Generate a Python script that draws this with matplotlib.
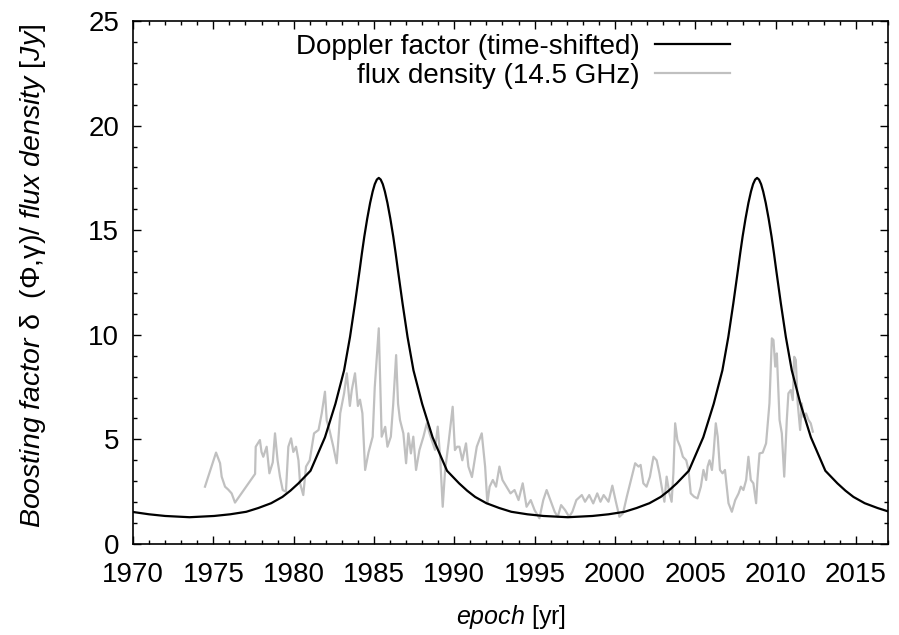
import matplotlib
matplotlib.use("Agg")
import matplotlib.pyplot as plt
from matplotlib.ticker import MultipleLocator

plt.rcParams['font.family'] = ['Liberation Sans', 'DejaVu Sans']
plt.rcParams['mathtext.fontset'] = 'custom'
plt.rcParams['mathtext.rm'] = 'Liberation Sans'
plt.rcParams['mathtext.it'] = 'Liberation Sans:italic'

# Doppler factor (time-shifted)
doppler_epoch = [1970.00, 1971.00, 1972.00, 1973.52, 1975.05, 1976.05, 1977.05, 1977.80,
                 1978.60, 1979.30, 1979.80, 1980.30, 1981.05, 1981.95, 1982.60, 1983.14,
                 1983.51, 1983.82, 1984.11, 1984.25, 1984.40, 1984.58, 1984.76, 1984.92,
                 1985.05, 1985.18, 1985.30, 1985.42, 1985.55, 1985.68, 1985.84, 1986.02,
                 1986.20, 1986.35, 1986.49, 1986.78, 1987.09, 1987.46, 1988.00, 1988.65,
                 1989.55, 1990.30, 1990.80, 1991.30, 1992.00, 1992.80, 1993.55, 1994.55,
                 1995.55, 1997.07, 1998.60, 1999.60, 2000.60, 2001.35, 2002.15, 2002.85,
                 2003.35, 2003.85, 2004.60, 2005.50, 2006.15, 2006.69, 2007.06, 2007.37,
                 2007.66, 2007.80, 2007.95, 2008.13, 2008.31, 2008.47, 2008.60, 2008.73,
                 2008.85, 2008.97, 2009.10, 2009.23, 2009.39, 2009.57, 2009.75, 2009.90,
                 2010.04, 2010.33, 2010.64, 2011.01, 2011.55, 2012.20, 2013.10, 2013.85,
                 2014.35, 2014.85, 2015.55, 2016.35, 2017.00]
doppler_val = [1.53, 1.42, 1.34, 1.28, 1.34, 1.42, 1.54, 1.72,
               1.95, 2.25, 2.55, 2.90, 3.50, 5.10, 6.70, 8.30,
               9.90, 11.5, 13.1, 13.9, 14.7, 15.55, 16.3, 16.85,
               17.2, 17.42, 17.5, 17.42, 17.2, 16.85, 16.3, 15.55,
               14.7, 13.9, 13.1, 11.5, 9.90, 8.30, 6.70, 5.10,
               3.50, 2.90, 2.55, 2.25, 1.95, 1.72, 1.54, 1.42,
               1.34, 1.28, 1.34, 1.42, 1.54, 1.72, 1.95, 2.25,
               2.55, 2.90, 3.50, 5.10, 6.70, 8.30, 9.90, 11.5,
               13.1, 13.9, 14.7, 15.55, 16.3, 16.85, 17.2, 17.42,
               17.5, 17.42, 17.2, 16.85, 16.3, 15.55, 14.7, 13.9,
               13.1, 11.5, 9.90, 8.30, 6.70, 5.10, 3.50, 2.90,
               2.55, 2.25, 1.95, 1.72, 1.56]

# flux density at 14.5 GHz
flux_epoch = [1974.48, 1975.17, 1975.42, 1975.52, 1975.73, 1975.93, 1976.14, 1976.35,
              1977.60, 1977.64, 1977.90, 1978.00, 1978.11, 1978.32, 1978.49, 1978.70,
              1978.84, 1979.00, 1979.15, 1979.32, 1979.52, 1979.67, 1979.84, 1979.98,
              1980.15, 1980.30, 1980.40, 1980.60, 1980.77, 1981.00, 1981.27, 1981.55,
              1981.75, 1981.95, 1982.06, 1982.23, 1982.47, 1982.68, 1982.90, 1983.14,
              1983.31, 1983.50, 1983.62, 1983.82, 1984.00, 1984.13, 1984.28, 1984.45,
              1984.66, 1984.92, 1985.05, 1985.30, 1985.48, 1985.70, 1985.84, 1986.05,
              1986.20, 1986.38, 1986.50, 1986.62, 1986.83, 1987.00, 1987.14, 1987.30,
              1987.45, 1987.62, 1987.83, 1988.08, 1988.29, 1988.46, 1988.67, 1988.80,
              1988.97, 1989.12, 1989.28, 1989.43, 1989.64, 1989.90, 1990.04, 1990.18,
              1990.32, 1990.50, 1990.73, 1990.88, 1991.10, 1991.40, 1991.71, 1991.92,
              1992.06, 1992.20, 1992.40, 1992.60, 1992.81, 1993.00, 1993.25, 1993.50,
              1993.75, 1994.00, 1994.26, 1994.50, 1994.76, 1995.00, 1995.30, 1995.54,
              1995.75, 1995.98, 1996.25, 1996.44, 1996.65, 1996.90, 1997.15, 1997.35,
              1997.60, 1997.94, 1998.14, 1998.40, 1998.65, 1998.90, 1999.10, 1999.30,
              1999.60, 1999.84, 2000.06, 2000.28, 2000.50, 2000.74, 2001.05, 2001.26,
              2001.47, 2001.60, 2001.77, 2001.97, 2002.18, 2002.40, 2002.60, 2002.77,
              2002.91, 2003.08, 2003.22, 2003.39, 2003.53, 2003.64, 2003.75, 2003.89,
              2004.06, 2004.23, 2004.44, 2004.58, 2004.72, 2004.93, 2005.14, 2005.35,
              2005.51, 2005.68, 2005.77, 2005.89, 2006.04, 2006.14, 2006.28, 2006.40,
              2006.54, 2006.70, 2006.85, 2006.96, 2007.07, 2007.28, 2007.49, 2007.70,
              2007.84, 2008.00, 2008.17, 2008.31, 2008.46, 2008.62, 2008.79, 2008.87,
              2009.00, 2009.20, 2009.41, 2009.62, 2009.77, 2009.87, 2009.98, 2010.08,
              2010.25, 2010.39, 2010.54, 2010.70, 2010.80, 2010.95, 2011.07, 2011.16,
              2011.26, 2011.38, 2011.53, 2011.63, 2011.74, 2011.90, 2012.05, 2012.19,
              2012.32]
flux_val = [2.74, 4.37, 3.86, 3.22, 2.74, 2.60, 2.42, 1.98,
            3.35, 4.65, 4.97, 4.40, 4.17, 4.65, 3.38, 3.90,
            5.29, 4.00, 3.22, 2.58, 2.50, 4.65, 5.05, 4.40,
            4.65, 4.00, 2.90, 2.34, 3.70, 4.00, 5.29, 5.45,
            6.25, 7.28, 5.90, 5.45, 4.65, 3.86, 6.25, 7.20,
            8.16, 6.60, 7.36, 8.16, 6.60, 6.90, 6.25, 3.54,
            4.37, 5.13, 7.50, 10.31, 5.13, 5.60, 4.65, 5.13,
            6.70, 9.03, 6.70, 5.93, 5.29, 3.86, 5.29, 4.33,
            5.13, 3.54, 4.49, 5.13, 5.77, 5.29, 4.81, 4.50,
            5.61, 4.17, 1.78, 3.54, 4.81, 6.56, 4.49, 4.65,
            4.65, 4.00, 4.81, 3.70, 3.20, 4.65, 5.29, 3.70,
            1.95, 2.74, 3.06, 2.74, 3.70, 3.06, 2.74, 2.42,
            2.58, 2.10, 2.90, 1.78, 2.10, 1.62, 1.23, 2.10,
            2.58, 2.10, 1.54, 1.30, 1.86, 1.62, 1.30, 1.54,
            2.10, 2.34, 2.02, 2.34, 1.94, 2.42, 2.02, 2.34,
            2.02, 2.79, 2.02, 1.30, 1.46, 2.26, 3.22, 3.86,
            3.70, 3.78, 2.90, 2.74, 3.22, 4.17, 4.00, 3.38,
            2.74, 2.02, 3.22, 2.42, 2.02, 3.38, 5.77, 4.97,
            4.65, 4.17, 4.00, 3.54, 2.42, 2.26, 2.18, 2.74,
            3.54, 3.06, 3.70, 4.00, 3.54, 4.33, 5.77, 5.13,
            3.54, 3.38, 3.54, 2.74, 1.95, 1.54, 2.10, 2.42,
            2.74, 2.58, 3.06, 4.17, 3.06, 2.90, 1.95, 3.06,
            4.33, 4.37, 4.81, 6.72, 9.83, 9.75, 8.48, 9.11,
            5.93, 5.29, 3.22, 5.93, 7.20, 7.36, 6.88, 8.95,
            8.80, 6.72, 5.45, 6.72, 6.08, 6.24, 5.93, 5.77,
            5.37]

series_labels = ["Doppler factor (time-shifted)", "flux density (14.5 GHz)"]
x_range = (1970, 2017)
y_range = (0, 25)

fig = plt.figure(figsize=(8.99, 6.35), dpi=100)
ax = fig.add_axes([133 / 899, 1 - 544 / 635, 755 / 899, 523 / 635])

ax.plot(doppler_epoch, doppler_val, color='black', lw=1.6, label=series_labels[0], zorder=3)
ax.plot(flux_epoch, flux_val, color='#c0c0c0', lw=1.6, label=series_labels[1], zorder=2)

ax.set_xlim(*x_range)
ax.set_ylim(*y_range)
ax.xaxis.set_major_locator(MultipleLocator(5))
ax.xaxis.set_minor_locator(MultipleLocator(1))
ax.yaxis.set_major_locator(MultipleLocator(5))
ax.yaxis.set_minor_locator(MultipleLocator(1))
ax.tick_params(which='both', direction='in', top=True, right=True, width=1.0, labelsize=20)
ax.tick_params(which='major', length=6)
ax.tick_params(which='minor', length=3)
ax.tick_params(axis='x', which='major', pad=13)
ax.tick_params(axis='y', which='major', pad=10)
for s in ax.spines.values():
    s.set_linewidth(1.2)

ax.set_xlabel(r'$\mathit{epoch}$ [yr]', fontsize=18, labelpad=11)
ax.set_ylabel(r'$\mathit{Boosting\ factor}$ δ  (Φ,γ)$\mathit{/\ flux\ density\ [Jy]}$',
              fontsize=20.5)
ax.yaxis.set_label_coords(-0.112, 0.513)

leg = ax.legend(loc='upper right', bbox_to_anchor=(0.791, 0.975), frameon=False,
                markerfirst=False, fontsize=20, handlelength=2.7, handletextpad=0.55,
                labelspacing=0.1, borderpad=0, borderaxespad=0)

fig.savefig('out.png', dpi=100)
